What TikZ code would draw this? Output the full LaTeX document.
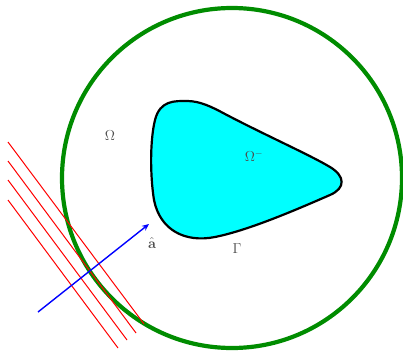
\documentclass[tikz,border=0pt]{standalone}
\usetikzlibrary{arrows.meta}
\definecolor{aqua}{RGB}{0,255,255}
\definecolor{ringgreen}{RGB}{0,140,0}
\begin{document}
\begin{tikzpicture}[x=1pt,y=-1pt,
  lbl/.style={text=black!70,font=\Large,inner sep=0pt},
  rayline/.style={red,line width=1pt},
  domainring/.style={draw=ringgreen,line width=4.2pt},
  blobstyle/.style={draw=black,fill=aqua,line width=2.2pt},
  dirarrow/.style={blue,line width=1.4pt,-{Stealth[length=7pt,width=6pt]}}]
\useasboundingbox (0,0) rectangle (403,350);
\node[domainring,circle,minimum size=340pt,inner sep=0pt] (outer) at (232,178) {};
\draw[blobstyle] (187,101) .. controls (200,101) and (212,107) .. (225,114)
  .. controls (265,135) and (310,155) .. (330,167)
  .. controls (345,176) and (346,188) .. (330,195)
  .. controls (300,208) and (250,230) .. (215,237)
  .. controls (185,243) and (160,230) .. (154,200)
  .. controls (150,175) and (150,140) .. (155,120)
  .. controls (160,100) and (175,101) .. (187,101) -- cycle;
\coordinate (r1a) at (8,142); \coordinate (r1b) at (144,324);
\coordinate (r2a) at (8,161); \coordinate (r2b) at (136,333);
\coordinate (r3a) at (8,180); \coordinate (r3b) at (127,340);
\coordinate (r4a) at (8,200); \coordinate (r4b) at (118,348);
\draw[rayline] (r1a) -- (r1b);
\draw[rayline] (r2a) -- (r2b);
\draw[rayline] (r3a) -- (r3b);
\draw[rayline] (r4a) -- (r4b);
\coordinate (aS) at (38,312); \coordinate (aE) at (149,224);
\draw[dirarrow] (aS) -- (aE);
\node[lbl] (om) at (110,136) {$\Omega$};
\node[lbl] (omm) at (254,156) {$\Omega^{-}$};
\node[lbl] (gam) at (237,249) {$\Gamma$};
\node[lbl] (ahat) at (152,243) {$\hat{\mathbf{a}}$};
\end{tikzpicture}
\end{document}
